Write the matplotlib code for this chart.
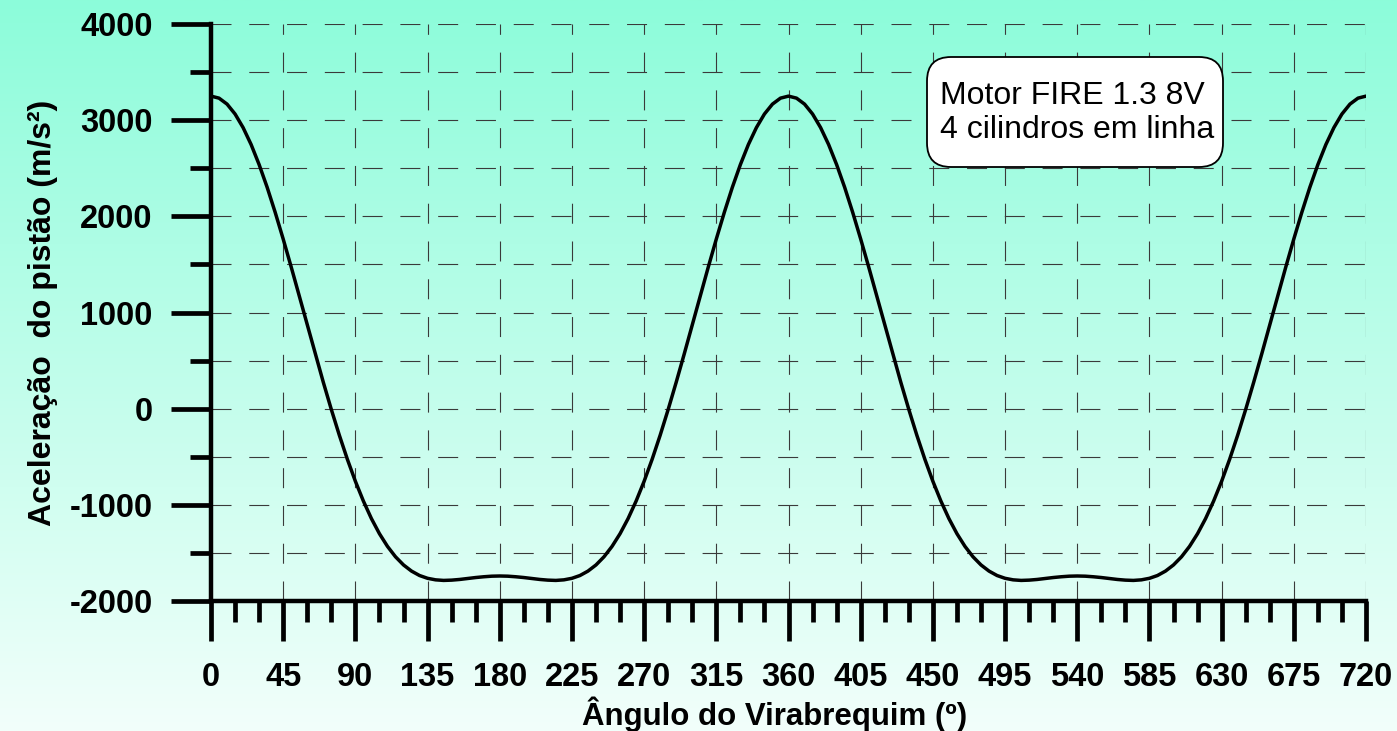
import matplotlib.pyplot as plt
import numpy as np
from matplotlib.ticker import MultipleLocator
from matplotlib.patches import FancyBboxPatch
from matplotlib.transforms import IdentityTransform

# Data: piston acceleration, every 5 deg over one crank turn (0..360)
angle_step = 5
accel_turn = [3250, 3229, 3167, 3064, 2923, 2747, 2538, 2302, 2042, 1764,
              1473, 1173, 870, 569, 275, -8, -276, -526, -755, -961,
              -1143, -1300, -1432, -1540, -1625, -1689, -1735, -1764, -1780, -1786,
              -1783, -1776, -1766, -1756, -1748, -1742, -1740,
              -1742, -1748, -1756, -1766, -1776, -1783, -1786, -1780, -1764, -1735,
              -1689, -1625, -1540, -1432, -1300, -1143, -961, -755, -526, -276,
              -8, 275, 569, 870, 1173, 1473, 1764, 2042, 2302, 2538,
              2747, 2923, 3064, 3167, 3229, 3250]
# second turn (360..720) repeats the first one
accel = accel_turn + accel_turn[1:]
angles = [i * angle_step for i in range(len(accel))]

x_ticks = list(range(0, 721, 45))
y_ticks = list(range(-2000, 4001, 1000))
note = "Motor FIRE 1.3 8V\n4 cilindros em linha"

plt.rcParams['font.family'] = ['Liberation Sans', 'DejaVu Sans']
plt.rcParams['axes.unicode_minus'] = False

W, H = 1397, 731
fig = plt.figure(figsize=(W / 100, H / 100), dpi=100)

# background gradient
bg = fig.add_axes([0, 0, 1, 1], zorder=-10)
top = np.array([140, 252, 218]) / 255
bot = np.array([242, 255, 251]) / 255
t = np.linspace(0, 1, 256)[:, None]
grad = top[None, :] * (1 - t) + bot[None, :] * t
bg.imshow(grad[:, None, :], aspect='auto', extent=[0, 1, 0, 1])
bg.axis('off')

ax = fig.add_axes([211 / W, 1 - 601 / H, (1366 - 211) / W, (601 - 24) / H])
ax.patch.set_alpha(0)

ax.plot(angles, accel, color='black', lw=2.5, zorder=3, solid_capstyle='round')

ax.set_xlim(0, 720)
ax.set_ylim(-2000, 4000)
ax.set_xticks(x_ticks)
ax.xaxis.set_minor_locator(MultipleLocator(15))
ax.set_yticks(y_ticks)
ax.yaxis.set_minor_locator(MultipleLocator(500))

for s in ['top', 'right']:
    ax.spines[s].set_visible(False)
for s in ['left', 'bottom']:
    ax.spines[s].set_linewidth(3.2)
    ax.spines[s].set_zorder(4)

ax.tick_params(which='major', length=29, width=3.4, direction='out')
ax.tick_params(which='minor', length=15, width=3.4, direction='out')
ax.tick_params(axis='x', which='major', pad=15, labelsize=23.5)
ax.tick_params(axis='y', which='major', pad=13, labelsize=23.5)
for lbl in ax.get_xticklabels() + ax.get_yticklabels():
    lbl.set_fontweight('bold')

# dashed grid
for xv in x_ticks[1:]:
    ax.axvline(xv, color='#3a3a3a', lw=0.8, ls=(0, (18, 16)), zorder=1)
for yv in range(-1500, 4001, 500):
    ax.axhline(yv, color='#3a3a3a', lw=0.8, ls=(0, (18, 16)), zorder=1)

ax.set_xlabel("Ângulo do Virabrequim (º)", fontsize=22.5, fontweight='bold')
ax.xaxis.set_label_coords(0.488, -0.165)
ax.set_ylabel("Aceleração  do pistão (m/s²)", fontsize=23, fontweight='bold', labelpad=8)

# note box (pixel coordinates)
box = FancyBboxPatch((927, H - 167), 1223 - 927, 110,
                     boxstyle='round,pad=0,rounding_size=24',
                     fc='white', ec='black', lw=1.3,
                     transform=IdentityTransform(), zorder=5)
fig.patches.append(box)
fig.text(940 / W, 1 - 113 / H, note, fontsize=23, ha='left', va='center',
         linespacing=1.2, zorder=6)

fig.savefig('out.png', dpi=100)
